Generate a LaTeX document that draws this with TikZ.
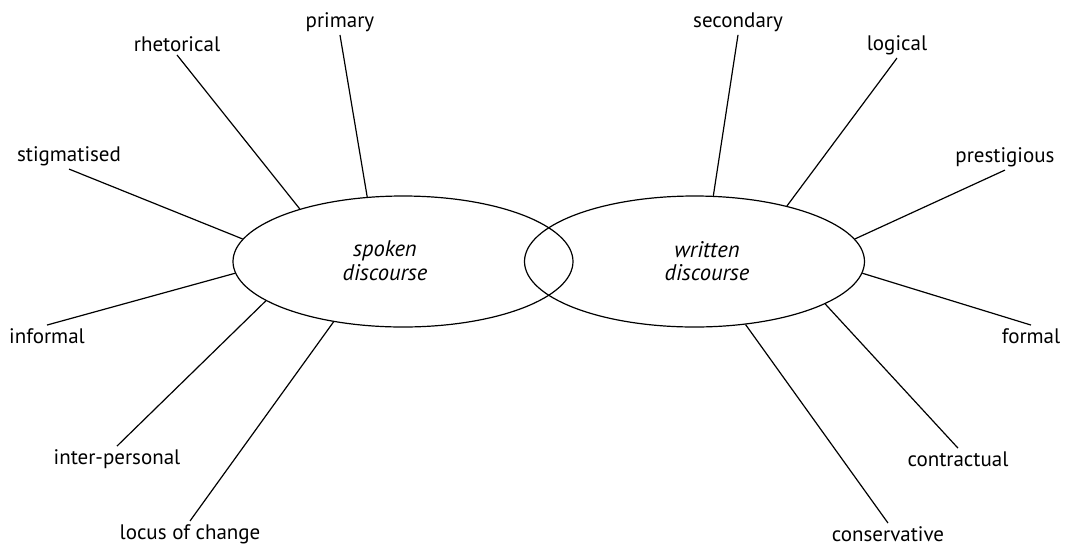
\documentclass[tikz,border=0pt]{standalone}
\usepackage{fontspec}
\setmainfont{PT Sans}
\usetikzlibrary{positioning,shapes.geometric}

\tikzset{
  discourse/.style={draw, ellipse, line width=0.6pt, minimum width=170pt, minimum height=65.5pt, inner sep=0pt},
  centre/.style={align=center, font=\fontsize{11.3}{11.8}\selectfont\itshape},
  trait/.style={font=\fontsize{10.5}{12}\selectfont, inner sep=1.5pt},
  spoke/.style={line width=0.6pt},
}

\begin{document}
\begin{tikzpicture}[x=0.5pt,y=-0.5pt]
  \useasboundingbox (0,0) rectangle (1084,548);

  % the two kinds of discourse
  \node[discourse] (spoken) at (403,261.5) {};
  \node[discourse] (written) at (694.5,261.5) {};
  \node[centre] (spokentxt) at (385,261) {spoken\\discourse};
  \node[centre] (writtentxt) at (707,261) {written\\discourse};

  % spoken side
  \node[trait] (primary) at (340,22) {primary};
  \node[trait] (rhetorical) at (177,44) {rhetorical};
  \node[trait] (stigmatised) at (69,156) {stigmatised};
  \node[trait] (informal) at (47,336) {informal};
  \node[trait] (interpersonal) at (117,459) {inter-personal};
  \node[trait] (locus) at (190,534) {locus of change};

  % written side
  \node[trait] (secondary) at (738,22) {secondary};
  \node[trait] (logical) at (897,45) {logical};
  \node[trait] (prestigious) at (1005,157) {prestigious};
  \node[trait] (formal) at (1031,336) {formal};
  \node[trait] (contractual) at (958,459) {contractual};
  \node[trait] (conservative) at (888,534) {conservative};

  \draw[spoke] (primary.south) -- (spoken.119.5);
  \draw[spoke] (rhetorical.south) -- (spoken.153);
  \draw[spoke] (stigmatised.south) -- (spoken.172.1);
  \draw[spoke] (informal.north) -- (spoken.184.3);
  \draw[spoke] (interpersonal.north) -- (spoken.196.5);
  \draw[spoke] (locus.north) -- (spoken.221.7);

  \draw[spoke] (secondary.south) -- (written.74.5);
  \draw[spoke] (logical.south) -- (written.31.9);
  \draw[spoke] (prestigious.south) -- (written.8.9);
  \draw[spoke] (formal.north) -- (written.-4.6);
  \draw[spoke] (contractual.north) -- (written.-18.9);
  \draw[spoke] (conservative.north) -- (written.-51.2);
\end{tikzpicture}
\end{document}
